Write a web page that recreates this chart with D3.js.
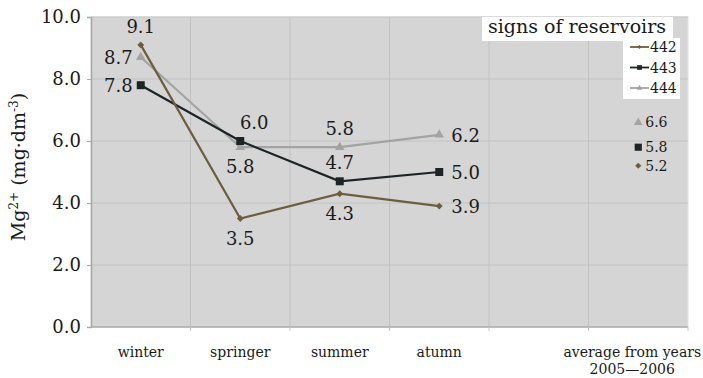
<!DOCTYPE html>
<html>
<head>
<meta charset="utf-8">
<script src="https://cdn.jsdelivr.net/npm/d3@7"></script>
<style>
  body { margin: 0; background: #fff; }
  svg text { font-family: "DejaVu Serif", "Liberation Serif", serif; fill: #1a1a1a; }
</style>
</head>
<body>
<div id="chart"></div>
<script>
// categories (5th band is empty in the original)
const seasons = ["winter", "springer", "summer", "atumn", "", "average"];
const lineSeasons = ["winter", "springer", "summer", "atumn"];
const yTicks = [0, 2, 4, 6, 8, 10];

const series442 = [9.1, 3.5, 4.3, 3.9];
const series443 = [7.8, 6.0, 4.7, 5.0];
const series444 = [8.7, 5.8, 5.8, 6.2];
const average442 = 5.2;
const average443 = 5.8;
const average444 = 6.6;

// where each value label sits relative to its point
const labelSide442 = ["top", "bottom", "bottom", "right"];
const labelSide443 = ["left", "topright", "top", "right"];
const labelSide444 = ["left", "bottom", "top", "right"];

const series = [
  { name: "444", values: series444, avg: average444, sides: labelSide444, color: "#a3a3a3", shape: d3.symbolTriangle, size: 40 },
  { name: "443", values: series443, avg: average443, sides: labelSide443, color: "#1c2426", shape: d3.symbolSquare, size: 64 },
  { name: "442", values: series442, avg: average442, sides: labelSide442, color: "#6b5e3f", shape: d3.symbolDiamond2, size: 30 }
];

const width = 703, height = 378;
const margin = { top: 17, right: 15, bottom: 51, left: 91 };

const svg = d3.select("#chart").append("svg")
  .attr("width", width)
  .attr("height", height);

const x = d3.scaleBand()
  .domain(seasons)
  .range([margin.left, width - margin.right]);

const y = d3.scaleLinear()
  .domain([0, 10])
  .range([height - margin.bottom, margin.top]);

const cx = d => x(d) + x.bandwidth() / 2;

// plot background
svg.append("rect")
  .attr("x", margin.left)
  .attr("y", margin.top)
  .attr("width", x.range()[1] - margin.left)
  .attr("height", y(0) - margin.top)
  .attr("fill", "#d5d5d5")
  .attr("stroke", "#e4e4e4");

// gridlines
svg.append("g")
  .selectAll("line")
  .data(yTicks.slice(1))
  .join("line")
  .attr("x1", margin.left).attr("x2", x.range()[1])
  .attr("y1", d => y(d)).attr("y2", d => y(d))
  .attr("stroke", "#c2c2c2");

svg.append("g")
  .selectAll("line")
  .data(seasons.slice(1))
  .join("line")
  .attr("x1", d => x(d)).attr("x2", d => x(d))
  .attr("y1", margin.top).attr("y2", y(0))
  .attr("stroke", "#c2c2c2");

// y axis
const yAxis = svg.append("g")
  .attr("transform", `translate(${margin.left},0)`)
  .call(d3.axisLeft(y).tickValues(yTicks).tickFormat(d3.format(".1f")).tickSize(4).tickPadding(6));
yAxis.attr("font-family", null);
yAxis.select(".domain").attr("stroke", "#a8a8a8").attr("stroke-width", 1.5);
yAxis.selectAll(".tick line").attr("stroke", "#a8a8a8");
yAxis.selectAll(".tick text").attr("font-size", 18).attr("fill", "#1a1a1a");

// x axis: boundary ticks
const bottom = svg.append("g");
bottom.append("line")
  .attr("x1", margin.left).attr("x2", x.range()[1])
  .attr("y1", y(0)).attr("y2", y(0))
  .attr("stroke", "#a8a8a8").attr("stroke-width", 1.5);
bottom.selectAll("line.tk")
  .data(seasons.slice(1).concat(["end"]))
  .join("line")
  .attr("class", "tk")
  .attr("x1", d => d === "end" ? x.range()[1] : x(d))
  .attr("x2", d => d === "end" ? x.range()[1] : x(d))
  .attr("y1", y(0)).attr("y2", y(0) + 4)
  .attr("stroke", "#c8c8c8");

bottom.selectAll("text.cat")
  .data(lineSeasons)
  .join("text")
  .attr("class", "cat")
  .attr("x", d => cx(d))
  .attr("y", y(0) + 30)
  .attr("text-anchor", "middle")
  .attr("font-size", 14)
  .text(d => d);

bottom.append("text")
  .attr("x", cx("average") - 6)
  .attr("y", y(0) + 30)
  .attr("text-anchor", "middle")
  .attr("font-size", 14)
  .text("average from years");
bottom.append("text")
  .attr("x", cx("average") - 6)
  .attr("y", y(0) + 47)
  .attr("text-anchor", "middle")
  .attr("font-size", 14)
  .text("2005\u20142006");

// y axis title
const yTitle = svg.append("text")
  .attr("transform", `translate(25,${(margin.top + y(0)) / 2 - 5}) rotate(-90)`)
  .attr("text-anchor", "middle")
  .attr("font-size", 19);
yTitle.append("tspan").text("Mg");
yTitle.append("tspan").attr("dy", -7).attr("font-size", 12).text("2+");
yTitle.append("tspan").attr("dy", 7).text(" (mg\u00b7dm");
yTitle.append("tspan").attr("dy", -7).attr("font-size", 12).text("-3");
yTitle.append("tspan").attr("dy", 7).text(")");

// lines and markers
const line = d3.line()
  .x((d, i) => cx(lineSeasons[i]))
  .y(d => y(d));

const offsets = {
  top: [0, -12, "middle"],
  bottom: [0, 26, "middle"],
  left: [-8, 7, "end"],
  right: [12, 7, "start"],
  topright: [14, -12, "middle"]
};

series.forEach(s => {
  const g = svg.append("g");
  g.append("path")
    .datum(s.values)
    .attr("d", line)
    .attr("fill", "none")
    .attr("stroke", s.color)
    .attr("stroke-width", 2.2);

  g.selectAll("path.m")
    .data(s.values)
    .join("path")
    .attr("class", "m")
    .attr("transform", (d, i) => `translate(${cx(lineSeasons[i])},${y(d)})`)
    .attr("d", d3.symbol().type(s.shape).size(s.size))
    .attr("fill", s.color);

  g.selectAll("text.v")
    .data(s.values)
    .join("text")
    .attr("class", "v")
    .attr("x", (d, i) => cx(lineSeasons[i]) + offsets[s.sides[i]][0])
    .attr("y", (d, i) => y(d) + offsets[s.sides[i]][1])
    .attr("text-anchor", (d, i) => offsets[s.sides[i]][2])
    .attr("font-size", 18)
    .text(d => d3.format(".1f")(d));

  // average point, markers only
  g.append("path")
    .attr("transform", `translate(${cx("average")},${y(s.avg)})`)
    .attr("d", d3.symbol().type(s.shape).size(s.size * 0.8))
    .attr("fill", s.color);
  g.append("text")
    .attr("x", cx("average") + 7)
    .attr("y", y(s.avg) + 5)
    .attr("font-size", 14)
    .text(d3.format(".1f")(s.avg));
});

// legend
const legend = svg.append("g");
legend.append("rect")
  .attr("x", 482).attr("y", 17).attr("width", 191).attr("height", 24)
  .attr("fill", "#fff");
legend.append("rect")
  .attr("x", 623).attr("y", 38).attr("width", 57).attr("height", 61)
  .attr("fill", "#fff");
legend.append("text")
  .attr("x", 488).attr("y", 33)
  .attr("font-size", 19)
  .text("signs of reservoirs");

const legendOrder = [series[2], series[1], series[0]];
legendOrder.forEach((s, i) => {
  const ly = 47 + i * 20.5;
  legend.append("line")
    .attr("x1", 630).attr("x2", 649)
    .attr("y1", ly).attr("y2", ly)
    .attr("stroke", s.color).attr("stroke-width", 1.8);
  legend.append("path")
    .attr("transform", `translate(639.5,${ly})`)
    .attr("d", d3.symbol().type(s.shape).size(s.size * 0.35))
    .attr("fill", s.color);
  legend.append("text")
    .attr("x", 650).attr("y", ly + 5)
    .attr("font-size", 14)
    .text(s.name);
});
</script>
</body>
</html>
